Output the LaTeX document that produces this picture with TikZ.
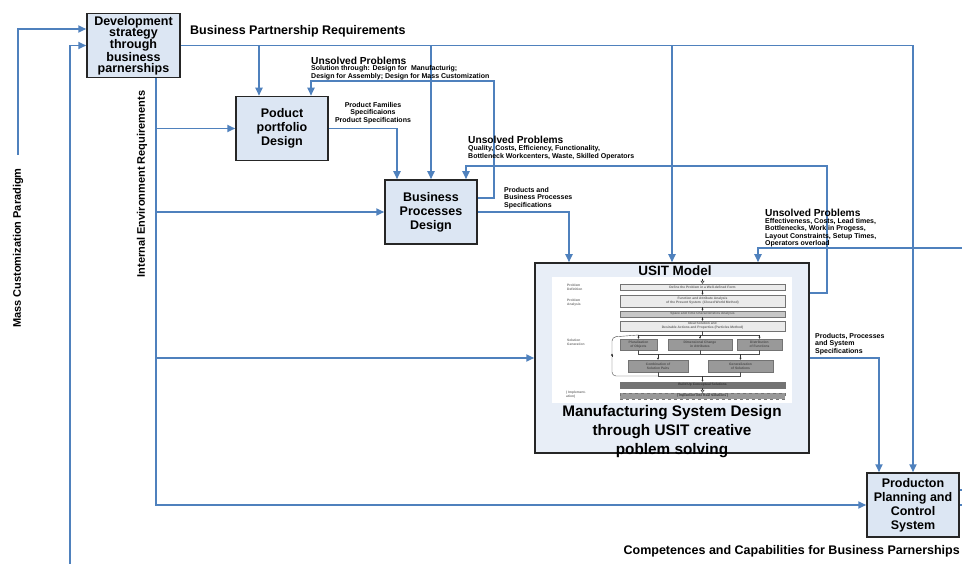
\documentclass[tikz,border=0pt]{standalone}
\usepackage{fontspec}
\setmainfont{Liberation Sans}
\usepackage{xcolor}
\definecolor{linkblue}{RGB}{79,129,189}
\definecolor{boxblue}{RGB}{220,230,243}
\definecolor{usitblue}{RGB}{232,238,247}
\usepackage{tikz}
\usetikzlibrary{positioning,calc}
\usetikzlibrary{arrows.meta}
\tikzset{>={Triangle[length=8pt,width=7pt]}}
\tikzset{
  unit/.style    ={ font=\bfseries\fontsize{12.5}{14}\selectfont, rectangle, draw=black!85, fill=boxblue, line width=1.5pt,
                     align=center, inner sep=0pt, minimum width=92pt, minimum height=64pt },
  flow/.style={->, draw=linkblue, line width=1.7pt},
  link/.style={draw=linkblue, line width=1.7pt},
  head/.style={ font=\bfseries\fontsize{10.2}{11}\selectfont, inner sep=0pt, anchor=west },
  note/.style={ font=\bfseries\fontsize{7}{7.5}\selectfont, inner sep=0pt, align=left, anchor=west },
  side/.style={ font=\bfseries\fontsize{11}{12}\selectfont, inner sep=0pt, rotate=90 },
%
  stepbox/.style={ font=\bfseries\fontsize{3.3}{3.8}\selectfont, text=black!60, rectangle, draw=black!55, fill=black!8,
                     line width=0.4pt, align=center, inner sep=0pt },
  steplabel/.style={ font=\bfseries\fontsize{3.3}{3.8}\selectfont, text=black!55, align=left, inner sep=0pt, anchor=west },
  tinyflow/.style={-{Triangle[length=2pt,width=2pt]}, draw=black!80, line width=0.5pt},
  tinylink/.style={draw=black!70, line width=0.4pt}
}

\begin{document}
\begin{tikzpicture}[x=1pt,y=-1pt]
        \useasboundingbox[fill=white] (0,0) rectangle (962,564);
        % blocks
        \node[unit, font=\bfseries\fontsize{12.5}{10.8}\selectfont, minimum width=93pt] (dev) at (133.5,45.5) {Development\\strategy\\through\\business\\parnerships};
        \node[unit] (ppd) at (282,128.5) {Poduct\\portfolio\\Design};
        \node[unit] (bpd) at (431,212) {Business\\Processes\\Design};
        \node[unit, fill=usitblue, minimum width=274pt, minimum height=190pt] (usit) at (672,358) {};
        \node[unit] (pcs) at (913,505) {Producton\\Planning and\\Control\\System};
        % USIT block content
        \node[font=\bfseries\fontsize{13.5}{15}\selectfont, inner sep=0pt] (usittitle) at (675,271) {USIT Model};
        \node[fill=white, inner sep=0pt, minimum width=240pt, minimum height=126pt] (usitfig) at (672,340) {};
        \node[font=\bfseries\fontsize{15.3}{19}\selectfont, align=center, inner sep=0pt] (usitname) at (672,432) {Manufacturing System Design\\through USIT creative\\poblem solving};
        \node[steplabel] (pdef) at (567,287) {Problem\\Definition};
        \node[steplabel] (pana) at (567,303) {Problem\\Analysis};
        \node[steplabel] (sgen) at (567,342) {Solution\\Generation};
        \node[steplabel] (impl) at (566,394.5) {( Implement-\\ation)};
        \node[stepbox, minimum width=165pt, minimum height=6pt] (s1) at (702.5,287) {Define the Problem in a Well-defined Form};
        \node[stepbox, minimum width=165pt, minimum height=12pt] (s2) at (702.5,301) {Function and Attribute Analysis\\of the Present System~~(Closed World Method)};
        \node[stepbox, fill=black!22, minimum width=165pt, minimum height=6pt] (s3) at (702.5,314) {Space and Time Characteristics Analysis};
        \node[stepbox, minimum width=165pt, minimum height=10pt] (s4) at (702.5,326) {Ideal Solution and\\Desirable Actions and Properties (Particles Method)};
        \node[stepbox, fill=black!40, text=black!70, minimum width=37pt, minimum height=11pt] (g1) at (638.5,344.5) {Pluralization\\of Objects};
        \node[stepbox, fill=black!40, text=black!70, minimum width=64pt, minimum height=11pt] (g2) at (700,344.5) {Dimensional Change\\in Attributes};
        \node[stepbox, fill=black!40, text=black!70, minimum width=45pt, minimum height=11pt] (g3) at (759.5,344.5) {Distribution\\of Functions};
        \node[stepbox, fill=black!40, text=black!70, minimum width=60pt, minimum height=12pt] (c1) at (658,366) {Combination of\\Solution Pairs};
        \node[stepbox, fill=black!40, text=black!70, minimum width=65pt, minimum height=12pt] (c2) at (740.5,366) {Generalization\\of Solutions};
        \node[stepbox, fill=black!55, text=black!80, minimum width=165pt, minimum height=6pt] (b1) at (702.5,385) {Build Up Conceptual Solutions};
        \node[stepbox, dashed, fill=black!40, text=black!80, minimum width=165pt, minimum height=6pt] (b2) at (702.5,396) {( Implement into Real Solutions )};
        \coordinate (split) at (702.5,335);
        \coordinate (join) at (702.5,354);
        \coordinate (gather) at (702.5,376);
        \coordinate (lpb) at (612,376);
        \coordinate (lpt) at (612,337);
        \draw[tinyflow, -{Triangle[open,length=3pt,width=4pt]}] ([yshift=5pt]s1.north) -- (s1.north);
        \draw[tinyflow] (s1) -- (s2);
        \draw[tinyflow] (s2) -- (s3);
        \draw[tinyflow] (s3) -- (s4);
        \draw[tinylink] (s4.south) -- (split);
        \draw[tinylink] (g1.north |- split) -- (g3.north |- split);
        \draw[tinyflow] (g1.north |- split) -- (g1.north);
        \draw[tinyflow] (g2.north |- split) -- (g2.north);
        \draw[tinyflow] (g3.north |- split) -- (g3.north);
        \draw[tinylink] (g1.south) -- (g1.south |- join) -- (g3.south |- join) -- (g3.south);
        \draw[tinylink] (g2.south) -- (g2.south |- join);
        \draw[tinyflow] (c1.north |- join) -- (c1.north);
        \draw[tinyflow] (c2.north |- join) -- (c2.north);
        \draw[tinylink] (c1.south) -- (c1.south |- gather) -- (c2.south |- gather) -- (c2.south);
        \draw[tinyflow] (gather) -- (b1.north);
        \draw[tinylink, rounded corners=4pt] (c1.south |- gather) -- (lpb) -- (lpt) -- (g1.north |- split);
        \draw[tinyflow] ($(lpb)!0.5!(lpt)$) -- ++(0,-3);
        \draw[tinyflow, -{Triangle[open,length=3pt,width=4pt]}] (b1) -- (b2);
        % connectors
        \coordinate (ppdin) at ([xshift=-23pt]ppd.north);
        \coordinate (ppdfb) at ([xshift=29pt]ppd.north);
        \coordinate (bpdin) at ([xshift=-34pt]bpd.north);
        \coordinate (bpdfb) at ([xshift=35pt]bpd.north);
        \coordinate (usitin) at ([xshift=-103pt]usit.north);
        \coordinate (usitfb) at ([xshift=86pt]usit.north);
        \coordinate (pcsin) at ([xshift=-34pt]pcs.north);
        \coordinate (ier) at ([xshift=22.5pt]dev.south);
        \coordinate (mcp) at (18,155);
        \coordinate (cbp) at (70,564);
        \coordinate (loop1) at (494,81);
        \coordinate (loop2) at (827,166);
        \coordinate (edge3) at (962,248);
        \coordinate (out1) at (962,490);
        \coordinate (out2) at (962,505);
        \draw[flow] (mcp) |- ([yshift=16.5pt]dev.west);
        \draw[flow] (cbp) |- (dev.west);
        \draw[flow] (dev.east) -| (pcs.north);
        \draw[flow] (ppdin |- dev.east) -- (ppdin);
        \draw[flow] (bpd.north |- dev.east) -- (bpd.north);
        \draw[flow] (usit.north |- dev.east) -- (usit.north);
        \draw[flow] (ier) |- (pcs.west);
        \draw[flow] (ier |- ppd.west) -- (ppd.west);
        \draw[flow] (ier |- bpd.west) -- (bpd.west);
        \draw[flow] (ier |- usit.west) -- (usit.west);
        \draw[flow] (ppd.east) -| (bpdin);
        \draw[flow] ([yshift=14pt]bpd.east) -| (loop1) -| (ppdfb);
        \draw[flow] ([yshift=65pt]usit.east) -| (loop2) -| (bpdfb);
        \draw[flow] (edge3) -| (usitfb);
        \draw[flow] (bpd.east) -| (usitin);
        \draw[flow] (usit.east) -| (pcsin);
        \draw[link] ([yshift=15pt]pcs.east) -- (out1);
        \draw[link] (pcs.east) -- (out2);
        % labels
        \node[font=\bfseries\fontsize{12.5}{14}\selectfont, anchor=west, inner sep=0pt] (bpreq) at (190,31) {Business Partnership Requirements};
        \node[side] (mcplab) at (18,248) {Mass Customization Paradigm};
        \node[side] (ierlab) at (142,184) {Internal Environment Requirements};
        \node[head] (up1) at (311,61) {Unsolved Problems};
        \node[note] (up1txt) at (311,72.5) {Solution through: Design for\ \ Manufacturig;\\Design for Assembly; Design for Mass Customization};
        \node[head] (up2) at (468,140) {Unsolved Problems};
        \node[note, font=\bfseries\fontsize{7}{8}\selectfont] (up2txt) at (468,153) {Quality, Costs, Efficiency, Functionality,\\Bottleneck Workcenters, Waste, Skilled Operators};
        \node[head] (up3) at (765,213) {Unsolved Problems};
        \node[note] (up3txt) at (765,232.5) {Effectiveness, Costs, Lead times,\\Bottlenecks, Work in Progess,\\Layout Constraints, Setup Times,\\Operators overload};
        \node[note, align=center, anchor=center] (pfam) at (373,113) {Product Families\\Specificaions\\Product Specifications};
        \node[note] (pbps) at (504,198) {Products and\\Business Processes\\Specifications};
        \node[note] (ppss) at (815,344) {Products, Processes\\and System\\Specifications};
        \node[font=\bfseries\fontsize{12.5}{14}\selectfont, anchor=east, inner sep=0pt] (comp) at (960,551) {Competences and Capabilities for Business Parnerships};
      \end{tikzpicture}
\end{document}
